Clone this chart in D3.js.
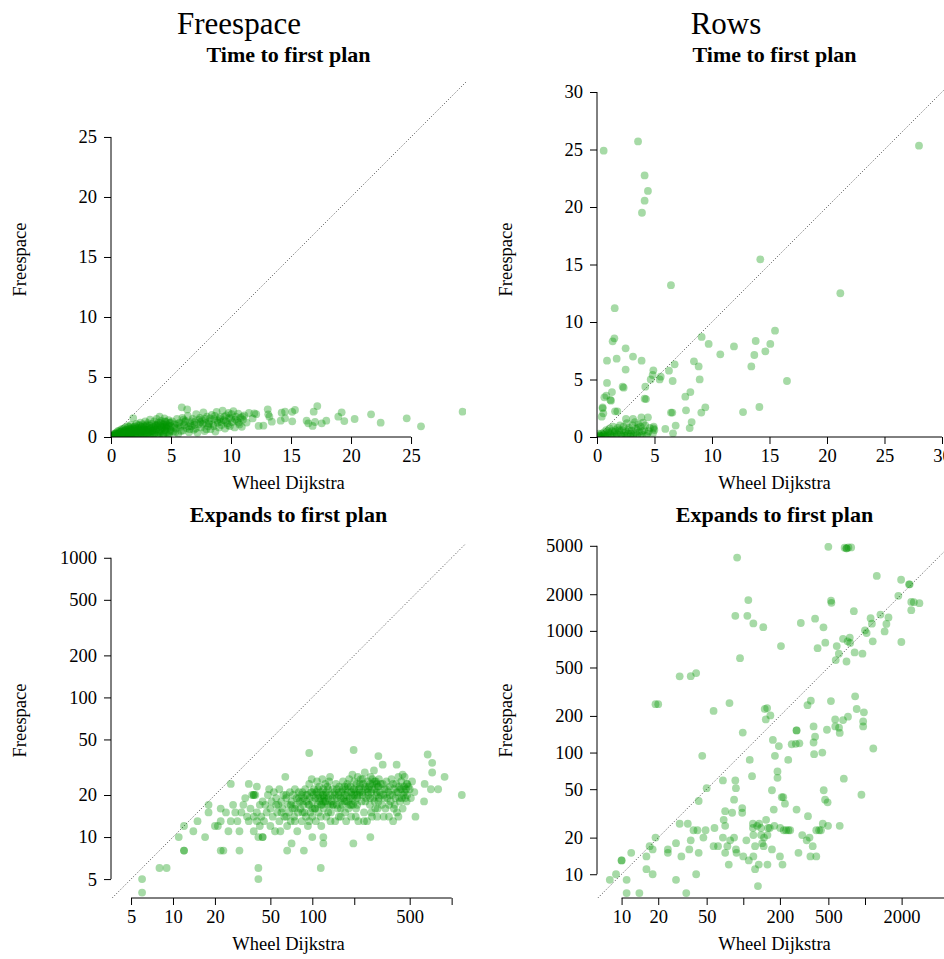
<!DOCTYPE html>
<html>
<head>
<meta charset="utf-8">
<script src="https://cdn.jsdelivr.net/npm/d3@7"></script>
<style>
  body { margin: 0; background: #fff; }
  svg { display: block; }
</style>
</head>
<body>
<svg width="944" height="959"></svg>
<script>
// [wheel dijkstra, freespace] pairs
var freeTime = [
  [0.05,0.03],[0.1,0.08],[0.15,0.1],[0.2,0.05],[0.25,0.2],[0.3,0.12],[0.35,0.3],[0.4,0.06],[0.45,0.25],[0.5,0.4],
  [0.55,0.15],[0.6,0.5],[0.65,0.3],[0.7,0.08],[0.75,0.55],[0.8,0.2],[0.85,0.45],[0.9,0.65],[0.95,0.1],[1.0,0.35],
  [1.05,0.7],[1.1,0.25],[1.15,0.5],[1.2,0.8],[1.25,0.05],[1.3,0.6],[1.35,0.3],[1.4,0.9],[1.45,0.15],[1.5,0.45],
  [1.55,0.7],[1.6,0.2],[1.65,1.0],[1.7,0.55],[1.75,0.35],[1.85,1.58],[1.8,0.8],[1.9,0.1],[1.95,0.6],[2.0,0.9],
  [2.05,0.3],[2.1,1.1],[2.15,0.5],[2.2,0.75],[2.25,0.15],[2.3,1.0],[2.35,0.4],[2.4,0.65],[2.45,1.2],[2.5,0.25],
  [2.55,0.85],[2.6,0.5],[2.65,1.05],[2.7,0.1],[2.75,0.7],[2.8,0.35],[2.85,1.3],[2.9,0.55],[2.95,0.9],[3.0,0.2],
  [3.05,1.15],[3.1,0.6],[3.15,0.4],[3.2,0.95],[3.25,1.45],[3.3,0.25],[3.35,0.75],[3.4,1.1],[3.45,0.5],[3.5,0.05],
  [3.55,0.85],[3.6,1.3],[3.65,0.35],[3.7,1.0],[3.75,0.6],[3.8,1.5],[3.85,0.15],[3.9,0.8],[3.95,1.2],[4.0,0.45],
  [4.05,1.7],[4.1,0.95],[4.15,0.3],[4.2,1.35],[4.25,0.7],[4.3,1.1],[4.35,0.2],[4.4,0.85],[4.45,1.55],[4.5,0.55],
  [4.55,1.25],[4.6,0.4],[4.65,1.0],[4.7,0.1],[4.75,0.75],[4.8,1.4],[4.85,0.3],[4.9,1.15],[4.95,0.6],[5.0,0.9],
  [0.1,0.02],[0.2,0.15],[0.3,0.05],[0.4,0.3],[0.5,0.1],[0.6,0.2],[0.7,0.4],[0.8,0.05],[0.9,0.3],[1.0,0.15],
  [1.1,0.5],[1.2,0.3],[1.3,0.1],[1.4,0.45],[1.5,0.2],[1.6,0.6],[1.7,0.1],[1.8,0.4],[1.9,0.7],[2.0,0.2],
  [2.1,0.5],[2.2,0.05],[2.3,0.6],[2.4,0.3],[2.5,0.8],[2.6,0.15],[2.7,0.45],[2.8,0.9],[2.9,0.25],[3.0,0.6],
  [3.2,0.1],[3.4,0.5],[3.6,0.2],[3.8,0.65],[4.0,0.1],[4.2,0.5],[4.4,0.25],[4.6,0.8],[4.8,0.15],[5.0,0.5],
  [0.3,0.25],[0.6,0.05],[0.9,0.45],[1.2,0.6],[1.5,0.85],[1.8,0.15],[2.1,0.35],[2.4,0.95],[2.7,0.65],[3.0,1.0],
  [3.3,0.45],[3.6,0.7],[3.9,1.05],[4.2,0.85],[4.5,1.3],[4.8,0.95],[1.05,0.1],[1.35,0.4],[1.65,0.3],[1.95,0.85],
  [2.25,0.55],[2.55,0.35],[2.85,0.15],[3.15,0.8],[3.45,0.3],[3.75,0.95],[4.05,0.6],[4.35,1.0],[4.65,0.7],[4.95,1.2],
  [0.45,0.1],[0.85,0.25],[1.25,0.4],[1.65,0.65],[2.05,0.7],[2.45,0.45],[2.85,0.6],[3.25,0.7],[3.65,0.9],[4.15,1.15],
  [4.55,0.9],[0.2,0.1],[0.65,0.15],[1.15,0.15],[1.55,0.1],[2.0,0.45],[2.55,0.6],[3.05,0.35],[3.55,0.55],[4.05,0.35],
  [4.45,0.6],
  [5.1,1.3],[5.2,0.45],[5.3,1.05],[5.4,0.7],[5.5,1.5],[5.6,0.25],[5.7,1.2],[5.8,0.85],[5.9,2.47],[5.95,1.6],
  [6.0,0.55],[6.1,1.0],[6.2,1.35],[6.3,0.75],[6.35,2.3],[6.4,1.75],[6.5,0.4],[6.6,1.15],[6.7,0.9],[6.8,1.5],
  [6.9,0.6],[7.0,1.25],[7.1,1.9],[7.2,0.35],[7.3,1.05],[7.4,1.6],[7.5,0.8],[7.6,1.4],[7.7,2.05],[7.8,0.5],
  [7.9,1.15],[8.0,1.7],[8.1,0.9],[8.2,1.3],[8.3,0.65],[8.4,1.85],[8.5,1.05],[8.6,1.5],[8.7,0.45],[8.8,2.1],
  [8.9,1.2],[9.0,0.8],[9.1,1.65],[9.2,1.0],[9.3,2.2],[9.4,1.4],[9.5,0.7],[9.6,1.8],[9.7,1.15],[9.8,2.0],
  [9.9,0.9],[10.0,1.55],[10.1,1.25],[10.2,2.15],[10.3,0.8],[10.4,1.7],[10.5,1.35],[10.6,1.95],[10.7,1.05],[10.8,1.6],
  [10.9,0.85],[11.0,1.45],[11.1,1.8],[11.3,1.2],[11.5,2.0],[11.8,1.55],[12.1,1.9],
  [5.25,0.8],[5.55,1.1],[5.85,0.5],[6.15,1.25],[6.45,0.9],[6.75,1.3],[7.05,0.7],[7.35,1.45],[7.65,1.1],[7.95,0.65],
  [8.25,1.55],[8.55,0.9],[8.85,1.4],[9.15,1.25],[9.45,1.7],[9.75,1.0],[10.05,1.9],[10.35,1.45],[10.65,1.2],[10.95,1.7],
  [5.35,0.4],[5.65,0.95],[6.05,1.45],[6.55,0.65],[6.95,1.0],[7.45,1.25],[7.85,1.5],[8.15,1.1],[8.65,1.75],[9.05,1.5],
  [9.55,1.3],[9.85,1.6],
  [11.94,1.97],[12.3,0.92],[12.7,0.94],[13.06,2.31],[13.1,1.89],[13.2,1.69],[13.4,1.28],[14.14,1.36],[14.22,2.03],[14.5,2.11],
  [14.5,1.56],[15.1,1.31],[15.1,2.1],[15.33,2.25],[16.3,1.36],[16.44,1.14],[16.8,0.92],[16.89,2.11],[17.0,1.25],[17.19,2.58],
  [17.56,1.14],[17.94,1.36],[18.94,1.69],[19.22,2.06],[19.44,1.33],[20.3,1.5],[21.67,1.89],[22.47,1.19],[24.64,1.56],[25.83,0.89],
  [29.3,2.11]
];

var rowsTime = [
  [0.58,24.9],[3.57,25.7],[4.14,22.75],[4.43,21.4],[4.14,20.55],[3.91,19.5],[28.0,25.33],[14.2,15.45],[6.43,13.2],[21.16,12.5],
  [1.54,11.2],[1.51,8.58],[1.36,8.32],[2.49,7.71],[0.87,6.64],[1.71,6.81],[3.13,6.99],[3.88,6.64],[2.49,5.86],[0.87,4.7],
  [2.23,4.38],[2.32,4.29],[0.64,3.45],[0.81,3.59],[1.3,3.91],[1.22,3.16],[0.49,2.58],[0.55,2.06],[0.41,1.77],[1.57,2.23],
  [1.77,2.23],[2.52,1.57],[3.13,1.57],[3.86,1.71],[4.43,1.71],[4.2,4.38],[4.14,3.33],[4.26,3.3],[4.9,5.8],[4.84,5.39],
  [4.67,5.01],[5.54,5.25],[5.45,5.01],[6.26,5.77],[6.58,4.87],[6.75,6.32],[6.43,2.12],[6.55,2.12],[6.84,0.99],[6.61,0.32],
  [5.94,0.7],[7.68,3.51],[8.12,3.91],[7.74,2.32],[8.23,1.3],[8.06,0.78],[8.43,6.58],[8.84,6.14],[8.93,5.01],[9.1,8.7],
  [9.71,8.09],[9.42,2.58],[9.07,2.12],[10.72,7.19],[11.91,7.88],[12.7,2.17],[13.42,6.14],[13.8,8.35],[13.68,7.13],[14.12,2.61],
  [14.64,7.45],[15.07,8.09],[15.48,9.25],[16.52,4.87],[4.93,0.9],[4.99,0.61],[4.87,0.32],[4.92,0.75],[1.16,3.22],[0.49,2.49],
  [0.1,0.05],[0.2,0.15],[0.3,0.1],[0.4,0.3],[0.5,0.05],[0.6,0.4],[0.7,0.2],[0.8,0.6],[0.9,0.1],[1.0,0.35],
  [1.1,0.75],[1.2,0.15],[1.3,0.5],[1.4,0.9],[1.5,0.25],[1.6,0.6],[1.7,0.05],[1.8,0.8],[1.9,0.4],[2.0,1.0],
  [2.1,0.2],[2.2,0.6],[2.3,0.9],[2.4,0.1],[2.5,0.5],[2.6,1.2],[2.7,0.3],[2.8,0.8],[2.9,0.05],[3.0,0.55],
  [3.1,1.0],[3.2,0.25],[3.3,1.3],[3.4,0.7],[3.5,0.15],[3.6,1.1],[3.7,0.45],[3.8,0.9],[3.9,0.2],[4.0,1.25],
  [4.1,0.6],[4.2,1.0],[4.4,0.3],[4.6,0.8],[0.15,0.3],[0.35,0.02],[0.55,0.2],[0.75,0.05],[0.95,0.5],[1.15,0.3],
  [1.35,0.05],[1.55,0.45],[1.75,0.25],[1.95,0.6],[2.15,0.05],[2.35,0.35],[2.55,0.15],[2.75,0.6],[2.95,0.3],[3.15,0.1],
  [3.35,0.4],[3.55,0.8],[3.75,0.1],[3.95,0.5],[4.3,0.1],[4.5,0.5]
];

var freeExpand = [
  [6,4],[6,5],[8,6],[9,6],[11,10],[12,12],[12,8],[12,8],[14,11],[15,13],[17,10],[18,17],[18,15],[22,16],[22,8],[23,8],
  [26,24],[30,8],[35,24],[40,23],[41,6],[41,5],[38,20],[38,20],[44,10],[95,40],[115,6],[198,42],[261,10],[298,38],[403,33],
  [673,39],[725,34],[725,29],[890,27],[1183,20],[800,22],[550,14],[634,18],[710,22],[640,24],[197,9],[120,10],[120,9],
  [87,8],[66,8],[71,9],[100,10],
  [20,12],[21,12],[22,13],[24,15],[25,11],[26,13],[27,17],[28,15],[29,13],[30,11],[31,15],[32,17],[33,19],[34,14],[35,13],
  [36,16],[37,20],[38,11],[38,14],[39,20],[40,15],[40,13],[41,10],[42,12],[42,17],[43,14],[44,18],[44,10],[45,13],[46,17],
  [47,15],[48,20],[49,22],[50,16],[50,12],[51,18],[52,14],[53,21],[54,11],[55,19],[56,15],[57,17],[58,13],[58,22],[59,11],
  [60,18],[61,16],[62,20],[63,14],[64,27],[65,19],[66,12],[67,17],[68,15],[69,21],[70,13],[71,18],[72,16],[73,20],[74,14],
  [75,22],[76,17],[77,19],[78,11],[79,15],[80,21],[81,18],[82,16],[83,20],[84,13],[85,21],[86,17],[87,19],[88,15],[89,22],
  [90,14],[91,18],[92,20],[93,12],[94,17],[95,24],[96,19],[97,15],[98,21],[99,26],[100,18],[100,14],[102,20],[103,22],[104,16],
  [105,19],[106,13],[107,21],[108,25],[109,17],[110,20],[111,15],[112,23],[113,18],[114,19],[115,21],[116,12],[117,17],[118,26],
  [119,20],[120,22],[121,16],[122,19],[123,18],[124,24],[125,21],[126,14],[127,20],[128,23],[129,17],[130,19],
  [132,25],[134,27],[135,20],[136,15],[138,18],[140,22],[142,17],[144,21],[146,13],[148,24],[150,19],[152,16],[154,20],[156,23],
  [158,18],[160,14],[162,21],[164,17],[166,25],[168,19],[170,20],[172,15],[174,22],[176,18],[178,24],[180,21],[182,16],[184,26],
  [186,19],[188,23],[190,14],[192,20],[194,28],[196,17],[198,22],[200,25],[202,18],[204,21],[206,16],[208,24],[210,19],[212,27],
  [214,13],[216,22],[218,20],[220,23],[223,26],[226,18],[229,21],[232,24],[235,15],[238,29],[241,22],[244,19],[247,13],[250,25],
  [253,20],[256,23],[259,17],[262,27],[265,21],[268,14],[271,24],[274,19],[277,30],[280,22],[283,16],[286,25],[289,20],[292,14],
  [295,23],[298,18],[301,26],[305,21],[310,24],[315,17],[320,33],[325,20],[330,22],[335,16],[340,25],[345,19],[350,21],[355,14],
  [360,23],[365,18],[370,26],[375,20],[380,13],[385,22],[390,17],[395,19],[400,24],[405,15],[410,21],[415,27],[420,23],[425,18],
  [430,22],[435,25],[440,19],[445,28],[450,20],[455,23],[460,27],[465,19],[470,22],[475,24],[480,20],[490,23],
  [55,17],[60,15],[65,20],[70,17],[75,16],[80,19],[85,18],[90,20],[95,17],[100,21],[105,16],[110,19],[115,17],[120,20],
  [125,18],[130,22],[135,17],[140,19],[145,20],[150,17],[155,21],[160,19],[165,22],[170,18],[175,20],[180,23],[185,17],
  [190,21],[195,19],[200,22],[210,20],[220,24],[230,20],[240,23],[250,21],[260,24],[270,22],[280,25],[290,21],[300,23],
  [310,20],[320,24],[330,19],[340,22],[360,20],[380,24],[400,21],[420,19],[440,22],[460,21],[480,24],[100,16],[110,22],
  [120,18],[130,15],[140,17],[150,22],[160,16],[170,23],[180,18],[190,17],[200,20],[210,17],[220,21],[230,26],[240,18],
  [250,22],[260,19],[270,26],[280,18],[290,24],[300,19],[65,14],[75,13],[85,15],[95,13],[115,14],[135,13],[155,14],
  [175,13],[205,14],[235,13],[265,15],[295,16],[325,14],[355,17],[385,16],[415,14],[445,16],[475,18],[500,22],[510,19],
  [520,25],[540,21]
];

var rowsExpand = [
  [8,9],[9,10],[10,13],[10,13],[11,9],[11,7],[12,15],[14,7],[16,14],[16,11],[17,17],[18,16],[18,10],[19,20],[19,250],[20,250],
  [24,16],[24,15],[28,18],[28,9],[30,423],[30,26],[31,14],[34,7],[35,26],[36,16],[37,19],[37,424],[41,450],[39,23],[42,23],
  [43,40],[43,15],[41,10],[46,94],[47,20],[49,23],[50,51],[57,220],[57,17],[58,24],[62,17],[68,20],[69,28],[71,33],[71,25],
  [68,59],[74,17],[76,12],[77,255],[78,19],[71,15],[81,32],[84,41],[86,59],[87,51],[86,1330],[89,4000],[94,596],[84,20],[87,16],
  [88,15],[98,32],[98,35],[99,146],[108,1330],[110,1790],[100,14],[106,19],[111,13],[113,87],[118,64],[120,26],[120,24],[121,14],
  [121,21],[121,1150],[125,11],[125,17],[132,8],[134,12],[143,18],[147,17],[146,1073],[150,228],[153,187],[157,232],[160,24],
  [158,12],[158,21],[154,28],[167,202],[172,16],[172,49],[175,127],[178,34],[182,94],[191,70],[191,62],[196,113],[204,750],
  [200,14],[201,24],[207,43],[213,43],[210,12],[220,38],[234,87],[243,23],[250,117],[270,118],[274,34],[274,152],[274,152],
  [284,15],[289,119],[297,1160],[305,21],[332,19],[337,245],[340,30],[350,20],[356,14],[359,267],[372,17],[378,121],[382,97],
  [378,164],[389,135],[389,1260],[398,23],[398,14],[408,720],[420,23],[435,23],[446,100],[450,26],[456,1070],[458,49],[470,41],
  [472,800],[487,154],[493,39],[497,25],[500,4900],[525,265],[526,1770],[530,1700],[569,187],[570,164],[575,575],[586,750],
  [610,650],[612,160],[620,145],[620,25],[660,860],[660,185],[670,61],[680,4830],[705,4770],[705,4770],[730,4840],[770,4850],
  [720,820],[705,560],[725,197],[750,880],[755,795],[810,1450],[822,665],[830,290],[855,228],[935,45],[953,650],[966,164],
  [980,214],[966,180],[1000,1010],[1031,960],[1112,1270],[1158,820],[1140,1145],[1170,108],[1250,2830],[1340,1360],[1450,990],
  [1500,1140],[1560,1290],[1880,1940],[1990,810],[1980,2630],[2300,2410],[2330,2410],[2400,1480],[2400,1730],[2520,1720],[2800,1690],
  [130,25],[135,26],[140,24],[165,24],[180,25],[215,23],[225,23],[235,23],[140,21],[148,20]
];

var linTicks25 = [0, 5, 10, 15, 20, 25];
var linTicks30 = [0, 5, 10, 15, 20, 25, 30];
var freeLogX = [5, 10, 20, 50, 100, 200, 500, 1000];
var freeLogXLabels = ["5", "10", "20", "50", "100", "", "500", ""];
var freeLogY = [5, 10, 20, 50, 100, 200, 500, 1000];
var rowsLogX = [10, 20, 50, 100, 200, 500, 1000, 2000, 5000];
var rowsLogXLabels = ["10", "20", "50", "", "200", "500", "", "2000", ""];
var rowsLogY = [10, 20, 50, 100, 200, 500, 1000, 2000, 5000];

var font = '"Liberation Serif","Times New Roman",serif';
var svg = d3.select("svg");

function panel(p) {
  var x = p.x, y = p.y;
  var xr = x.range(), yr = y.range();
  var g = svg.append("g");

  g.append("clipPath").attr("id", p.id)
    .append("rect")
    .attr("x", xr[0]).attr("y", yr[1])
    .attr("width", xr[1] - xr[0]).attr("height", yr[0] - yr[1]);

  // y = x reference line
  var xd = x.domain(), yd = y.domain();
  var lo = Math.max(xd[0], yd[0]), hi = Math.min(xd[1], yd[1]);
  g.append("line")
    .attr("x1", x(lo)).attr("y1", y(lo))
    .attr("x2", x(hi)).attr("y2", y(hi))
    .attr("stroke", "#333")
    .attr("stroke-width", 0.9)
    .attr("stroke-dasharray", "1,2");

  g.append("g").attr("clip-path", "url(#" + p.id + ")")
    .selectAll("circle")
    .data(p.data)
    .enter()
    .append("circle")
    .attr("cx", function (d) { return x(d[0]); })
    .attr("cy", function (d) { return y(d[1]); })
    .attr("r", 3.9)
    .attr("fill", "rgb(0,150,0)")
    .attr("fill-opacity", 0.35);

  // axes, base R style: line only from first to last tick
  var ax = g.append("g")
    .attr("transform", "translate(0," + yr[0] + ")")
    .call(d3.axisBottom(x).tickValues(p.xTicks).tickSize(7)
      .tickFormat(function (d, i) { return p.xLabels ? p.xLabels[i] : d; }));
  ax.select(".domain").remove();
  ax.append("line")
    .attr("x1", x(p.xTicks[0])).attr("x2", x(p.xTicks[p.xTicks.length - 1]))
    .attr("stroke", "#000");
  ax.selectAll("text").attr("y", 25).attr("dy", null);

  var ay = g.append("g")
    .attr("transform", "translate(" + xr[0] + ",0)")
    .call(d3.axisLeft(y).tickValues(p.yTicks).tickSize(7).tickPadding(7)
      .tickFormat(function (d) { return d; }));
  ay.select(".domain").remove();
  ay.append("line")
    .attr("y1", y(p.yTicks[0])).attr("y2", y(p.yTicks[p.yTicks.length - 1]))
    .attr("stroke", "#000");

  g.selectAll(".tick line").attr("stroke", "#000");
  g.selectAll(".tick text")
    .attr("font-family", font)
    .attr("font-size", 18.5)
    .attr("fill", "#000");

  var cx = (xr[0] + xr[1]) / 2, cy = (yr[0] + yr[1]) / 2;
  g.append("text")
    .attr("x", cx).attr("y", p.titleY)
    .attr("text-anchor", "middle")
    .attr("font-family", font)
    .attr("font-weight", "bold")
    .attr("font-size", 22)
    .text(p.title);
  g.append("text")
    .attr("x", cx).attr("y", yr[0] + 52)
    .attr("text-anchor", "middle")
    .attr("font-family", font)
    .attr("font-size", 18.5)
    .text("Wheel Dijkstra");
  g.append("text")
    .attr("transform", "translate(" + (xr[0] - 85) + "," + cy + ") rotate(-90)")
    .attr("text-anchor", "middle")
    .attr("font-family", font)
    .attr("font-size", 18.5)
    .text("Freespace");
}

panel({
  id: "c1", data: freeTime, title: "Time to first plan", titleY: 62,
  x: d3.scaleLinear().domain([0, 29.58]).range([111, 466]),
  y: d3.scaleLinear().domain([0, 29.58]).range([437, 82]),
  xTicks: linTicks25, yTicks: linTicks25
});
panel({
  id: "c2", data: rowsTime, title: "Time to first plan", titleY: 62,
  x: d3.scaleLinear().domain([0, 30.87]).range([597, 952]),
  y: d3.scaleLinear().domain([0, 30.87]).range([437, 82]),
  xTicks: linTicks30, yTicks: linTicks30
});
panel({
  id: "c3", data: freeExpand, title: "Expands to first plan", titleY: 522,
  x: d3.scaleLog().domain([3.59, 1268]).range([111, 466]),
  y: d3.scaleLog().domain([3.66, 1276]).range([898, 543]),
  xTicks: freeLogX, xLabels: freeLogXLabels, yTicks: freeLogY
});
panel({
  id: "c4", data: rowsExpand, title: "Expands to first plan", titleY: 522,
  x: d3.scaleLog().domain([6.28, 5188]).range([597, 952]),
  y: d3.scaleLog().domain([6.38, 5272]).range([898, 543]),
  xTicks: rowsLogX, xLabels: rowsLogXLabels, yTicks: rowsLogY
});

// column headings
svg.append("text").attr("x", 239).attr("y", 34)
  .attr("text-anchor", "middle").attr("font-family", font).attr("font-size", 31)
  .text("Freespace");
svg.append("text").attr("x", 726).attr("y", 34)
  .attr("text-anchor", "middle").attr("font-family", font).attr("font-size", 31)
  .text("Rows");
</script>
</body>
</html>
